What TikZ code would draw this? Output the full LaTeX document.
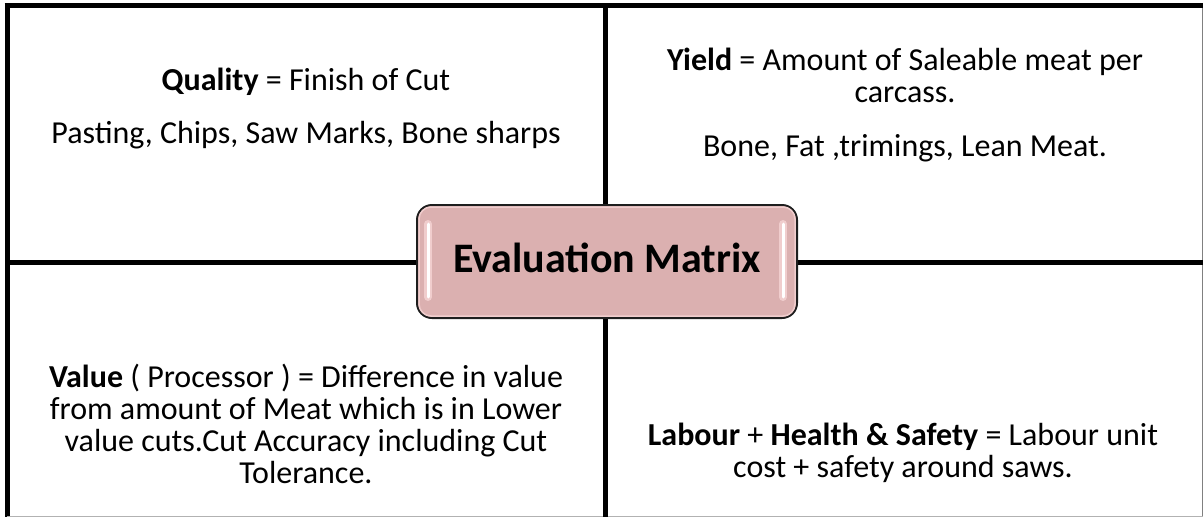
\documentclass[tikz,border=0pt]{standalone}
\usepackage{fontspec}
\setmainfont{Carlito}
\definecolor{boxfill}{RGB}{219,176,176}
\definecolor{boxedge}{RGB}{30,30,30}
\definecolor{glow}{RGB}{240,205,205}
\begin{document}
\begin{tikzpicture}[x=1pt,y=-1pt,
  rule/.style={line width=5pt,black},
  body/.style={font=\fontsize{32}{32}\selectfont, align=center, inner sep=0pt, anchor=base},
  titlebox/.style={draw=boxedge, line width=2pt, fill=boxfill, rounded corners=15pt,
    minimum width=380pt, minimum height=113pt, inner sep=0pt},
  titletext/.style={font=\fontsize{42}{50}\selectfont\bfseries, inner sep=0pt, anchor=base},
  shine/.style={line cap=round, line width=#1}]
\useasboundingbox (0,0) rectangle (1203,517);
\clip (0,0) rectangle (1203,517);

% outer frame and the two dividers of the 2x2 grid
\draw[rule] (4.5,5.5) -- (1210,5.5);
\draw[rule] (7,3) -- (7,520);
\draw[gray, line width=1pt] (1202.5,8) -- (1202.5,517);
\draw[gray!60, line width=1pt] (7,516.5) -- (1203,516.5);
\draw[rule] (605.5,3) -- (605.5,520);
\draw[rule] (7,262.5) -- (1210,262.5);

% quadrant texts (a node's base is the baseline of its last line)
\node[body] (quality) at (306,90) {\textbf{Quality} = Finish of Cut};
\node[body] (qualitydetail) at (306,143) {Pasting, Chips, Saw Marks, Bone sharps};
\node[body] (yield) at (905,102) {\textbf{Yield} = Amount of Saleable meat per\\carcass.};
\node[body] (yielddetail) at (905,156) {Bone, Fat ,trimings, Lean Meat.};
\node[body] (value) at (306,483) {\textbf{Value} ( Processor ) = Difference in value\\from amount of Meat which is in Lower\\value cuts.Cut Accuracy including Cut\\Tolerance.};
\node[body] (labour) at (903,477) {\textbf{Labour} + \textbf{Health \& Safety} = Labour unit\\cost + safety around saws.};

% central title box with its glossy highlights
\node[titlebox] (matrix) at (607,261.5) {};
\draw[glow, line width=1.5pt, rounded corners=12pt]
  ([shift={(3,-3)}]matrix.south west) rectangle ([shift={(-3,3)}]matrix.north east);
\draw[glow, shine=8pt] (428,224) -- (428,297);
\draw[white, shine=3pt] (428,224) -- (428,297);
\draw[glow, shine=8pt] (783,224) -- (783,297);
\draw[white, shine=3pt] (783,224) -- (783,297);
\node[titletext] (title) at (607,272.7) {Evaluation Matrix};
\end{tikzpicture}
\end{document}
